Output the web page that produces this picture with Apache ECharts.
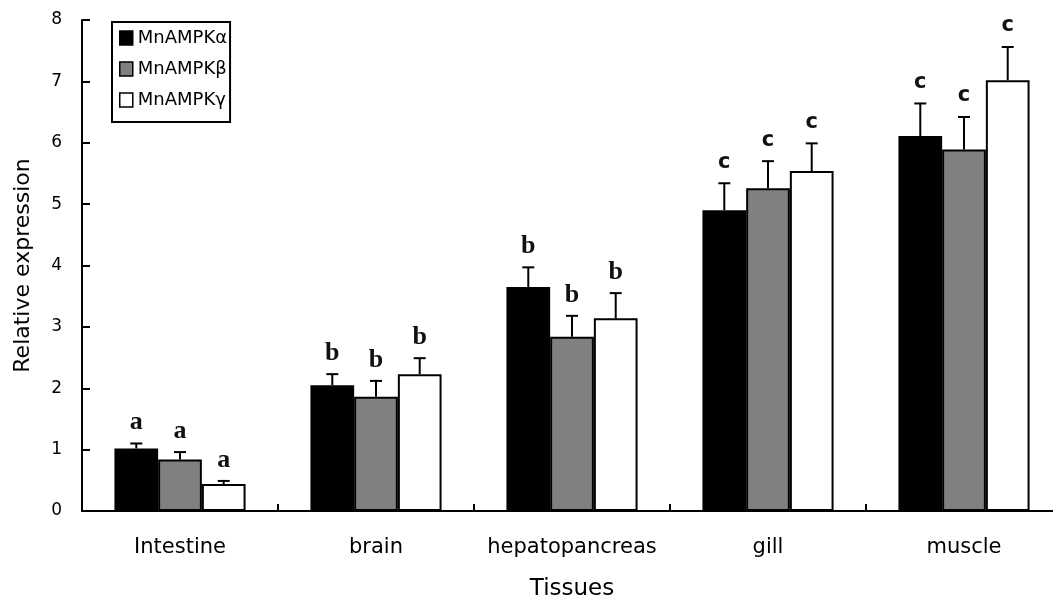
<!DOCTYPE html>
<html>
<head>
<meta charset="utf-8">
<script src="https://cdn.jsdelivr.net/npm/echarts@6/dist/echarts.min.js"></script>
<style>html,body{margin:0;padding:0;background:#fff;}#c{width:1053px;height:601px;}</style>
</head>
<body>
<div id="c"></div>
<script>
const categories = ['Intestine', 'brain', 'hepatopancreas', 'gill', 'muscle'];
const seriesNames = ['MnAMPKα', 'MnAMPKβ', 'MnAMPKγ'];
const alphaVals = [1.02, 2.05, 3.65, 4.90, 6.11];
const betaVals  = [0.84, 1.86, 2.84, 5.26, 5.89];
const gammaVals = [0.44, 2.23, 3.14, 5.54, 7.02];
const alphaErr = [0.08, 0.18, 0.32, 0.44, 0.53];
const betaErr  = [0.12, 0.26, 0.34, 0.44, 0.53];
const gammaErr = [0.05, 0.26, 0.41, 0.45, 0.54];
const alphaLetters = ['a', 'b', 'b', 'c', 'c'];
const betaLetters  = ['a', 'b', 'b', 'c', 'c'];
const gammaLetters = ['a', 'b', 'b', 'c', 'c'];
const yTicks = [0, 1, 2, 3, 4, 5, 6, 7, 8];

const vals = [alphaVals, betaVals, gammaVals];
const errs = [alphaErr, betaErr, gammaErr];
const letters = [alphaLetters, betaLetters, gammaLetters];
const fills = ['#000000', '#808080', '#ffffff'];
const BAR_FRAC = 0.223;

const errData = [];
for (let s = 0; s < 3; s++) {
  for (let i = 0; i < categories.length; i++) {
    errData.push([i, vals[s][i], vals[s][i] + errs[s][i], letters[s][i], s]);
  }
}

const chart = echarts.init(document.getElementById('c'));
const barSeries = seriesNames.map((n, s) => ({
  name: n,
  type: 'bar',
  data: vals[s],
  barWidth: (BAR_FRAC * 100) + '%',
  barGap: '0%',
  itemStyle: { color: fills[s], borderColor: '#000', borderWidth: 2 },
  z: 2
}));

const errSeries = {
  type: 'custom',
  data: errData,
  encode: { x: 0, y: 2 },
  z: 5,
  renderItem: function (params, api) {
    const cat = api.value(0);
    const v = api.value(1);
    const top = api.value(2);
    const s = api.value(4);
    const letter = errData[params.dataIndex][3];
    const cw = api.size([1, 0])[0];
    const off = (s - 1) * cw * BAR_FRAC;
    const p0 = api.coord([cat, v]);
    const p1 = api.coord([cat, top]);
    const x = p0[0] + off;
    const cap = 6;
    const isC = letter === 'c';
    return {
      type: 'group',
      children: [
        { type: 'line', shape: { x1: x, y1: p0[1], x2: x, y2: p1[1] }, style: { stroke: '#000', lineWidth: 2 } },
        { type: 'line', shape: { x1: x - cap, y1: p1[1], x2: x + cap, y2: p1[1] }, style: { stroke: '#000', lineWidth: 2 } },
        { type: 'text', x: x, y: p1[1] - 21, style: {
            text: letter, textAlign: 'center', textVerticalAlign: 'middle',
            fontFamily: isC ? 'DejaVu Sans' : 'Liberation Serif',
            fontWeight: 'bold', fontSize: isC ? 21 : 26, fill: '#111'
        } }
      ]
    };
  }
};

chart.setOption({
  animation: false,
  backgroundColor: '#fff',
  grid: { left: 82, right: -9, top: 20, bottom: 90, containLabel: false, outerBoundsMode: 'none' },
  legend: {
    orient: 'vertical',
    left: 112, top: 22,
    padding: [7, 3, 13, 7],
    itemWidth: 13, itemHeight: 14, itemGap: 13,
    borderColor: '#000', borderWidth: 2,
    icon: 'rect',
    data: seriesNames,
    textStyle: { fontFamily: 'DejaVu Sans', fontSize: 18, color: '#000' },
    itemStyle: { borderColor: '#000', borderWidth: 1.5 }
  },
  xAxis: {
    type: 'category',
    data: categories,
    name: 'Tissues',
    nameLocation: 'middle',
    nameGap: 67,
    nameTextStyle: { fontFamily: 'DejaVu Sans', fontSize: 23, color: '#000' },
    axisLine: { lineStyle: { color: '#000', width: 2 } },
    axisTick: { show: true, interval: 0, inside: true, length: 7, lineStyle: { color: '#000', width: 2 } },
    axisLabel: { interval: 0, margin: 26, fontFamily: 'DejaVu Sans', fontSize: 21, color: '#000' },
    splitLine: { show: false }
  },
  yAxis: {
    type: 'value',
    min: 0, max: 8, interval: 1,
    name: 'Relative expression',
    nameLocation: 'middle',
    nameGap: 48,
    nameRotate: 90,
    nameTextStyle: { fontFamily: 'DejaVu Sans', fontSize: 22, color: '#000' },
    axisLine: { show: true, lineStyle: { color: '#000', width: 2 } },
    axisTick: { show: true, inside: true, length: 8, lineStyle: { color: '#000', width: 2 } },
    axisLabel: { margin: 20, fontFamily: 'DejaVu Sans', fontSize: 17, color: '#000',
      formatter: function (v) { return yTicks.indexOf(v) >= 0 ? String(v) : ''; } },
    splitLine: { show: false }
  },
  series: barSeries.concat([errSeries])
});
</script>
</body>
</html>
